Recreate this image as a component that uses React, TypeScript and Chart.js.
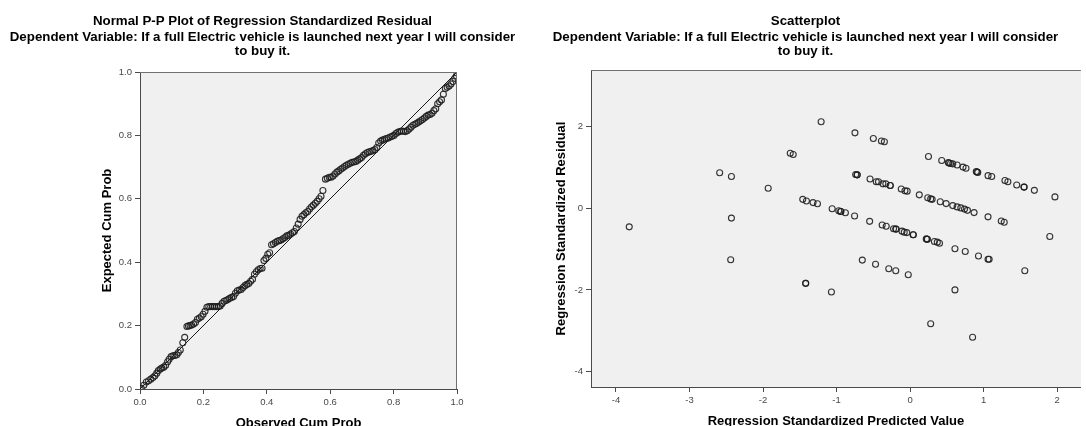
import React, { useEffect, useRef } from "react";
import { Chart, registerables } from "chart.js";

Chart.register(...registerables);

// ---------- text ----------
const ppTitle = "Normal P-P Plot of Regression Standardized Residual";
const scatterTitle = "Scatterplot";
const dependentLines = [
  "Dependent Variable: If a full Electric vehicle is launched next year I will consider",
  "to buy it.",
];
const ppXTitle = "Observed Cum Prob";
const ppYTitle = "Expected Cum Prob";
const scXTitle = "Regression Standardized Predicted Value";
const scYTitle = "Regression Standardized Residual";

// ---------- P-P plot data ----------
const ppObserved = [
  0.004, 0.012, 0.02, 0.027, 0.034, 0.041, 0.047, 0.053, 0.058, 0.064, 0.069, 0.075, 0.081, 0.087, 0.092, 0.098, 0.104, 0.11, 0.116, 0.121, 0.127,
  0.135, 0.141, 0.148, 0.153, 0.158, 0.163, 0.169, 0.175, 0.181, 0.187, 0.193, 0.199, 0.205,
  0.211, 0.217, 0.223, 0.229, 0.235, 0.241, 0.247, 0.253, 0.259, 0.265, 0.271, 0.277, 0.283, 0.289, 0.295, 0.301,
  0.307, 0.313, 0.319, 0.325, 0.331, 0.337, 0.343, 0.349, 0.355, 0.361, 0.367, 0.373, 0.379, 0.385, 0.391, 0.397, 0.403,
  0.409, 0.415, 0.421, 0.427, 0.433, 0.439, 0.445, 0.451, 0.457, 0.463, 0.469, 0.475, 0.481, 0.487, 0.493, 0.499, 0.505, 0.511, 0.517, 0.523, 0.529, 0.535, 0.541, 0.547, 0.553, 0.559, 0.565, 0.571, 0.577,
  0.585, 0.591, 0.597, 0.603, 0.609, 0.615, 0.621, 0.627, 0.633, 0.639, 0.645, 0.651, 0.657, 0.663, 0.669, 0.675, 0.681, 0.687, 0.693, 0.699, 0.705, 0.711, 0.717, 0.723, 0.729, 0.735, 0.741, 0.747, 0.753, 0.759,
  0.765, 0.771, 0.777, 0.783, 0.789, 0.795, 0.801, 0.807, 0.813, 0.819, 0.825, 0.831, 0.837, 0.843, 0.849, 0.855, 0.861,
  0.867, 0.873, 0.879, 0.885, 0.891, 0.897, 0.903, 0.909, 0.915, 0.921, 0.927, 0.933, 0.939, 0.945, 0.951, 0.957, 0.963, 0.969, 0.975, 0.981, 0.987, 0.993, 0.998,
];
const ppExpected = [
  0.002, 0.012, 0.022, 0.026, 0.031, 0.036, 0.042, 0.05, 0.058, 0.063, 0.066, 0.069, 0.075, 0.086, 0.094, 0.102, 0.105, 0.106, 0.108, 0.115, 0.123,
  0.146, 0.163, 0.197, 0.199, 0.2, 0.202, 0.205, 0.21, 0.22, 0.224, 0.228, 0.236, 0.245,
  0.258, 0.26, 0.26, 0.26, 0.26, 0.26, 0.26, 0.262, 0.27, 0.277, 0.279, 0.282, 0.286, 0.289, 0.292, 0.302,
  0.31, 0.312, 0.314, 0.32, 0.326, 0.33, 0.333, 0.34, 0.346, 0.362, 0.37, 0.376, 0.38, 0.381, 0.405, 0.412, 0.425,
  0.43, 0.455, 0.458, 0.462, 0.466, 0.468, 0.47, 0.474, 0.478, 0.483, 0.485, 0.489, 0.493, 0.497, 0.508, 0.52, 0.535, 0.545, 0.55, 0.556, 0.56, 0.568, 0.575, 0.58, 0.586, 0.592, 0.6, 0.608, 0.626,
  0.662, 0.665, 0.668, 0.668, 0.672, 0.678, 0.684, 0.688, 0.693, 0.697, 0.702, 0.706, 0.709, 0.712, 0.715, 0.716, 0.718, 0.722, 0.726, 0.73, 0.737, 0.742, 0.746, 0.748, 0.75, 0.752, 0.755, 0.762, 0.776, 0.782,
  0.785, 0.788, 0.79, 0.792, 0.795, 0.797, 0.8, 0.806, 0.81, 0.812, 0.814, 0.813, 0.812, 0.815, 0.82, 0.826, 0.832,
  0.835, 0.838, 0.842, 0.846, 0.85, 0.855, 0.86, 0.864, 0.866, 0.87, 0.878, 0.884, 0.9, 0.906, 0.912, 0.93, 0.948, 0.952, 0.956, 0.962, 0.97, 0.98, 0.988,
];
const ppTicks = [0, 0.2, 0.4, 0.6, 0.8, 1.0];

// ---------- Scatterplot data ----------
const scPredicted = [
  -1.21, -0.75, -0.5, -0.39, -0.35, 0.25, 0.43, 0.52, 0.53, 0.55, 0.58, 0.64, 0.72, 0.76, 0.9, 0.91, 0.92, 1.06, 1.11, 1.29, 1.33, 1.45, 1.55, 1.55, 1.69, 1.97,
  -0.74, -0.72, -0.72, -0.545, -0.46, -0.43, -0.37, -0.33, -0.27, -0.27, -0.12, -0.07, -0.04, 0.125, 0.24, 0.28, 0.3, 0.41, 0.49, 0.58, 0.64, 0.69, 0.74, 0.78, 0.87, 1.06, 1.24, 1.28, 1.9,
  -1.46, -1.41, -1.32, -1.26, -1.06, -0.97, -0.945, -0.94, -0.88, -0.755, -0.55, -0.38, -0.325, -0.225, -0.195, -0.19, -0.11, -0.08, -0.045, 0.04, 0.045, 0.22, 0.23, 0.235, 0.33, 0.37, 0.4, 0.61, 0.75, 0.93, 1.06, 1.075, 1.56,
  -0.65, -0.47, -0.29, -0.195, -0.025, -1.42, -1.42, -1.07, 0.61, 0.28, 0.85,
  -3.82, -2.59, -2.43, -2.43, -1.93, -1.63, -1.59, -2.44,
];
const scResidual = [
  2.12, 1.85, 1.71, 1.65, 1.63, 1.27, 1.17, 1.12, 1.11, 1.1, 1.09, 1.06, 1.01, 0.98, 0.9, 0.89, 0.88, 0.8, 0.78, 0.68, 0.65, 0.57, 0.52, 0.52, 0.44, 0.28,
  0.83, 0.82, 0.82, 0.72, 0.65, 0.65, 0.6, 0.6, 0.56, 0.56, 0.475, 0.43, 0.42, 0.33, 0.26, 0.23, 0.22, 0.16, 0.115, 0.066, 0.034, 0.01, -0.02, -0.05, -0.105, -0.21, -0.31, -0.34, -0.69,
  0.22, 0.18, 0.14, 0.11, -0.01, -0.06, -0.08, -0.08, -0.11, -0.19, -0.32, -0.41, -0.44, -0.5, -0.51, -0.51, -0.56, -0.585, -0.595, -0.65, -0.65, -0.75, -0.76, -0.76, -0.815, -0.83, -0.855, -0.99, -1.06, -1.17, -1.25, -1.25, -1.53,
  -1.27, -1.37, -1.48, -1.53, -1.63, -1.84, -1.84, -2.05, -2.0, -2.83, -3.16,
  -0.455, 0.87, 0.78, -0.24, 0.49, 1.35, 1.32, -1.26,
];
const scXTicks = [-4, -3, -2, -1, 0, 1, 2];
const scYTicks = [-4, -2, 0, 2];

// ---------- styling ----------
const FONT = "'Liberation Sans', Arial, Helvetica, sans-serif";
const TICK_COLOR = "#484848";
const AXIS_COLOR = "#4a4a4a";
const POINT_COLOR = "rgba(30,30,30,0.9)";
const TITLE_SIZE = 13.3;
const AXIS_TITLE_SIZE = 13;

function framePlugin(drawRight: boolean) {
  return {
    id: "spssFrame",
    beforeDraw(chart: any) {
      const { ctx, chartArea: a } = chart;
      ctx.save();
      ctx.fillStyle = "#f0f0f0";
      ctx.fillRect(a.left, a.top, a.right - a.left, a.bottom - a.top);
      ctx.restore();
    },
    afterDatasetsDraw(chart: any) {
      const { ctx, chartArea: a } = chart;
      ctx.save();
      ctx.strokeStyle = "#707070";
      ctx.lineWidth = 1;
      ctx.beginPath();
      ctx.moveTo(a.left, a.top + 0.5);
      ctx.lineTo(a.right, a.top + 0.5);
      if (drawRight) {
        ctx.moveTo(a.right - 0.5, a.top);
        ctx.lineTo(a.right - 0.5, a.bottom);
      }
      ctx.stroke();
      ctx.restore();
    },
  };
}

function titlePlugins(main: string, subBottom: number) {
  return {
    legend: { display: false },
    tooltip: { enabled: false },
    title: {
      display: true,
      text: main,
      color: "#000",
      font: { family: FONT, size: TITLE_SIZE, weight: "bold" as const, lineHeight: "16px" },
      padding: { top: 13, bottom: 1 },
    },
    subtitle: {
      display: true,
      text: dependentLines,
      color: "#000",
      font: { family: FONT, size: TITLE_SIZE, weight: "bold" as const, lineHeight: "14px" },
      padding: { top: 0, bottom: subBottom },
    },
  };
}

function axis(opts: {
  position: "left" | "bottom";
  min: number;
  max: number;
  ticks: number[];
  fmt: (v: number) => string;
  title: string;
  size: number;
  titlePad: any;
}) {
  const horizontal = opts.position === "bottom";
  return {
    type: "linear" as const,
    position: opts.position,
    min: opts.min,
    max: opts.max,
    afterBuildTicks: (s: any) => {
      s.ticks = opts.ticks.map((v) => ({ value: v }));
    },
    afterFit: (s: any) => {
      if (horizontal) s.height = opts.size;
      else s.width = opts.size;
    },
    grid: { drawOnChartArea: false, drawTicks: true, tickLength: 5, color: AXIS_COLOR, lineWidth: 1 },
    border: { display: true, color: AXIS_COLOR, width: 1 },
    ticks: {
      callback: (v: any) => opts.fmt(Number(v)),
      font: { family: FONT, size: 9.5 },
      color: TICK_COLOR,
      padding: 3,
      maxRotation: 0,
      autoSkip: false,
    },
    title: {
      display: true,
      text: opts.title,
      color: "#000",
      font: { family: FONT, size: AXIS_TITLE_SIZE, weight: "bold" as const, lineHeight: 1.2 },
      padding: opts.titlePad,
    },
  };
}

export default function App() {
  const leftRef = useRef<HTMLCanvasElement | null>(null);
  const rightRef = useRef<HTMLCanvasElement | null>(null);

  useEffect(() => {
    Chart.defaults.font.family = FONT;
    const ppPoints = ppObserved.map((x, i) => ({ x, y: ppExpected[i] }));
    const diag = [
      { x: ppTicks[0], y: ppTicks[0] },
      { x: ppTicks[ppTicks.length - 1], y: ppTicks[ppTicks.length - 1] },
    ];
    const left = new Chart(leftRef.current!, {
      type: "scatter",
      data: {
        datasets: [
          {
            data: ppPoints,
            pointStyle: "circle",
            pointRadius: 3,
            pointBorderWidth: 1.1,
            pointBorderColor: POINT_COLOR,
            pointBackgroundColor: "rgba(0,0,0,0)",
          } as any,
          {
            data: diag,
            showLine: true,
            borderColor: "#1a1a1a",
            borderWidth: 1,
            pointRadius: 0,
          } as any,
        ],
      },
      options: {
        animation: false,
        responsive: false,
        maintainAspectRatio: false,
        events: [],
        layout: { padding: { left: 0, right: 0, top: 0, bottom: 5.2 } },
        plugins: titlePlugins(ppTitle, 14) as any,
        scales: {
          x: axis({ position: "bottom", min: 0, max: 1, ticks: ppTicks, fmt: (v) => v.toFixed(1), title: ppXTitle, size: 45.8, titlePad: { top: 0, bottom: 4 } }),
          y: axis({ position: "left", min: 0, max: 1, ticks: ppTicks, fmt: (v) => v.toFixed(1), title: ppYTitle, size: 140, titlePad: { top: 99.2, bottom: 0 } }),
          yPad: {
            type: "linear",
            position: "right",
            display: true,
            grid: { display: false, drawTicks: false },
            border: { display: false },
            ticks: { display: false },
            afterFit: (s: any) => {
              s.width = 68;
            },
          },
        } as any,
      },
      plugins: [framePlugin(true)],
    });

    const scPoints = scPredicted.map((x, i) => ({ x, y: scResidual[i] }));
    const right = new Chart(rightRef.current!, {
      type: "scatter",
      data: {
        datasets: [
          {
            data: scPoints,
            pointStyle: "circle",
            pointRadius: 3,
            pointBorderWidth: 1.1,
            pointBorderColor: POINT_COLOR,
            pointBackgroundColor: "rgba(0,0,0,0)",
          } as any,
        ],
      },
      options: {
        animation: false,
        responsive: false,
        maintainAspectRatio: false,
        events: [],
        layout: { padding: { left: 0, right: 0, top: 0, bottom: 7.2 } },
        plugins: titlePlugins(scatterTitle, 12) as any,
        scales: {
          x: axis({ position: "bottom", min: -4.34, max: 2.323, ticks: scXTicks, fmt: (v) => String(v), title: scXTitle, size: 45.8, titlePad: { top: 0, bottom: 4 } }),
          y: axis({ position: "left", min: -4.38, max: 3.39, ticks: scYTicks, fmt: (v) => String(v), title: scYTitle, size: 66, titlePad: { top: 28.2, bottom: 0 } }),
        } as any,
      },
      plugins: [framePlugin(false)],
    });

    return () => {
      left.destroy();
      right.destroy();
    };
  }, []);

  return (
    <div
      style={{
        position: "absolute",
        left: 0,
        top: 0,
        width: 1086,
        height: 426,
        overflow: "hidden",
        background: "#fff",
      }}
    >
      <canvas
        ref={leftRef}
        width={525}
        height={440}
        style={{ position: "absolute", left: 0, top: 0, width: 525, height: 440 }}
      />
      <canvas
        ref={rightRef}
        width={561}
        height={440}
        style={{ position: "absolute", left: 525, top: 0, width: 561, height: 440 }}
      />
    </div>
  );
}
